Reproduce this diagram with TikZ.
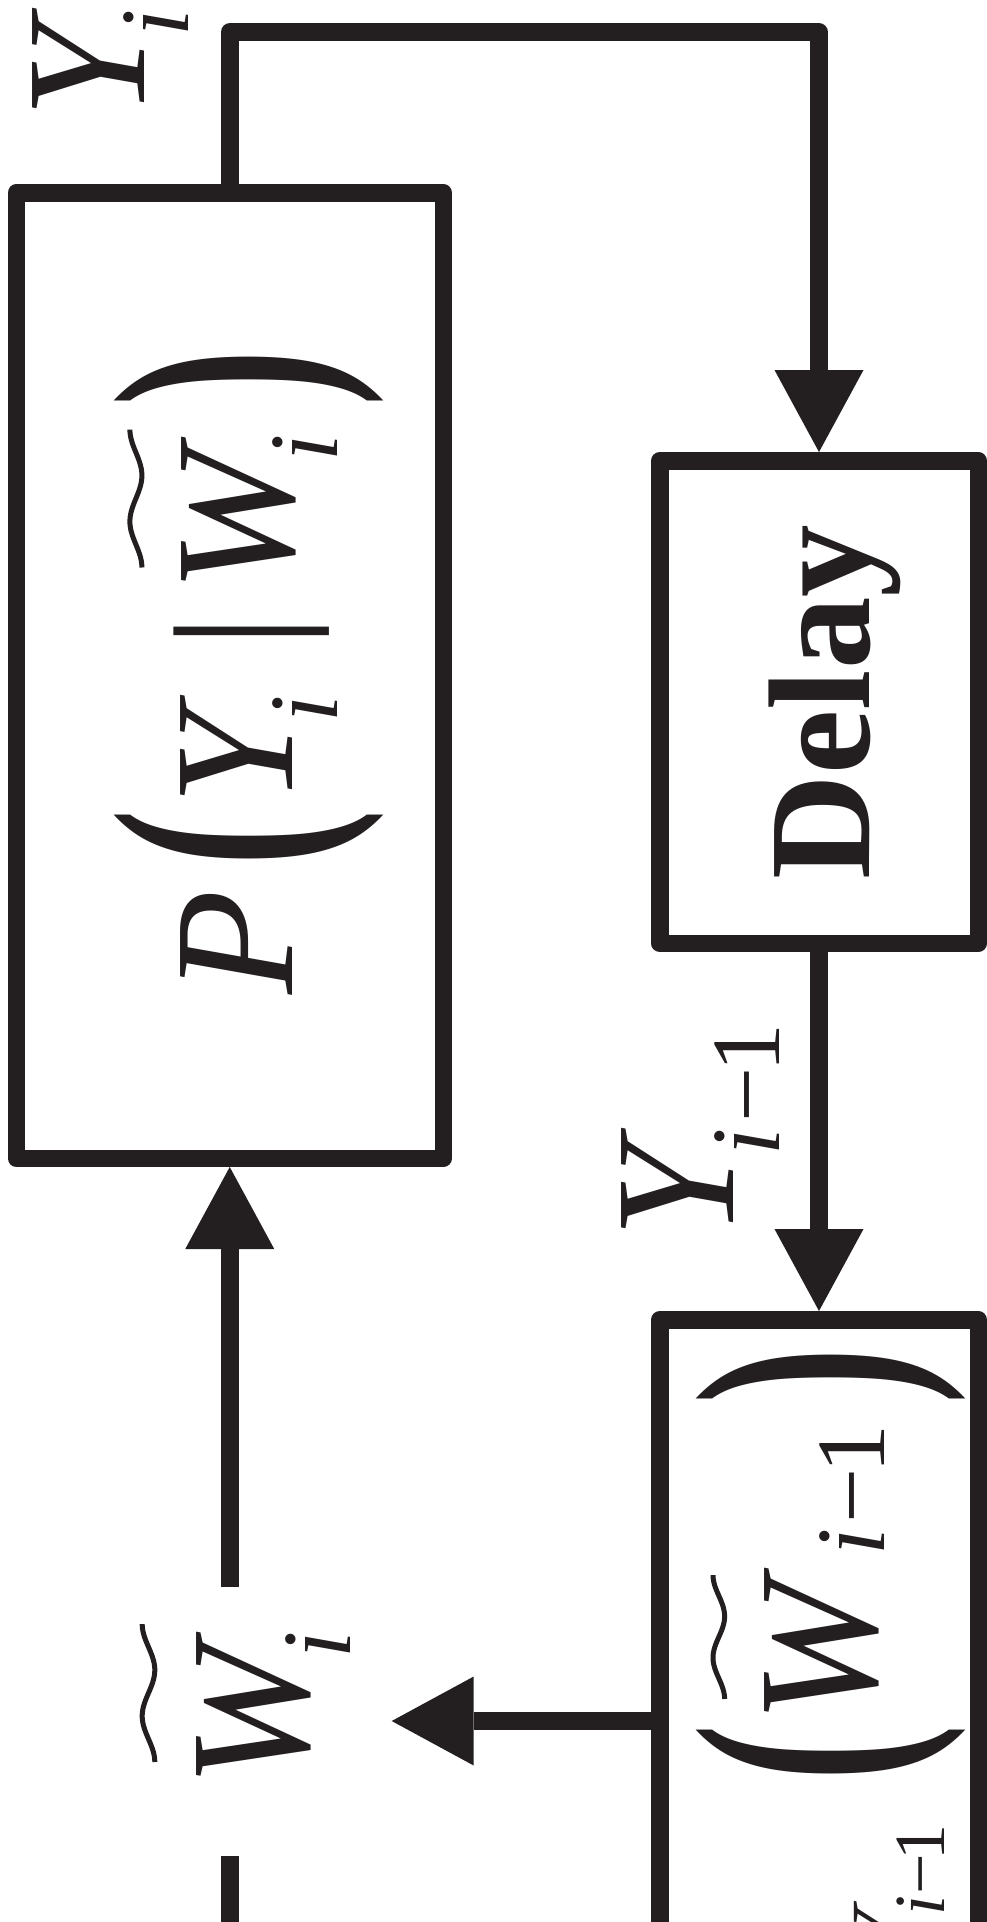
\documentclass[tikz,border=0pt]{standalone}
\usepackage{graphicx}
\usepackage{fontspec}
\setmainfont{Liberation Serif}
\usetikzlibrary{arrows.meta}
\definecolor{ink}{RGB}{35,31,32}
\newcommand\FMi{\fontsize{171}{171}\selectfont\itshape}
\newcommand\FMu{\fontsize{171}{171}\selectfont\upshape}
\newcommand\FSi{\fontsize{98}{98}\selectfont\itshape}
\newcommand\FSu{\fontsize{98}{98}\selectfont\upshape}
\newcommand\FTi{\fontsize{72}{72}\selectfont\itshape}
\newcommand\FTu{\fontsize{72}{72}\selectfont\upshape}
\newcommand\ParenL{\FMu\bfseries\scalebox{1.0}[1.74]{(}}
\newcommand\ParenR{\FMu\bfseries\scalebox{1.0}[1.74]{)}}
\newcommand\WaveTilde[4]{\draw[tildeline] plot[domain=0:1,samples=60,variable=\t] ({#1+#4*cos(540*\t)},{#2+#3/2-#3*\t});}
\begin{document}
\begin{tikzpicture}[x=1pt,y=-1pt,line join=round,
  box/.style={draw=ink,line width=17.5pt,inner sep=0pt,outer sep=8.75pt},
  conn/.style={draw=ink,line width=17.5pt},
  tip/.style={-{Triangle[length=82pt,width=89pt,line width=0pt]}},
  gl/.style={rotate=90,anchor=base,inner sep=0pt,outer sep=0pt,text=ink},
  par/.style={rotate=90,anchor=center,inner sep=0pt,outer sep=0pt,text=ink},
  tildeline/.style={draw=ink,line width=5pt,line cap=butt}]
\useasboundingbox (0,0) rectangle (987,1922);
% boxes
\node[box,minimum width=427pt,minimum height=965.5pt] (pbox) at (229.75,675.5) {};
\node[box,minimum width=318.5pt,minimum height=482.5pt] (delay) at (819,702) {};
\node[box,minimum width=318.5pt,minimum height=800pt] (bbox) at (819,1719.75) {};
% coordinates
\coordinate (top) at (0,32);
\coordinate (wtip) at (391.7,1721);
\coordinate (wgaptop) at (229.75,1587);
\coordinate (wgapbot) at (229.75,1856);
\coordinate (lowend) at (229.75,1980);
% connectors
\draw[conn,tip] (pbox.north) -- (pbox.north |- top) -| (delay.north);
\draw[conn,tip] (delay.south) -- (bbox.north);
\draw[conn,tip] (bbox.west |- wtip) -- (wtip);
\draw[conn,tip] (wgaptop) -- (pbox.south);
\draw[conn] (lowend) -- (wgapbot);
% label Y_i
\node[gl] (yiY) at (144,70.5) {\FMi Y};
\node[gl] (yii) at (188,22.5) {\FSi i};
% P box text
\node[gl] (pP) at (292,942.5) {\FMi P};
\node[par] (pL) at (249.4,838) {\ParenL};
\node[gl] (pY) at (292,758.4) {\FMi Y};
\node[gl] (pYi) at (337,709) {\FSi i};
\node[gl] (pbar) at (292,631) {\FMu |};
\node[gl] (pW) at (293,521) {\FMi W};
\WaveTilde{135.9}{498.5}{138}{6}
\node[gl] (pWi) at (337,447.5) {\FSi i};
\node[par] (pR) at (249.4,378.4) {\ParenR};
% Delay
\node[gl] (dtext) at (869,702) {\fontsize{145}{145}\selectfont\bfseries Delay};
% label Y_{i-1}
\node[gl] (yY) at (733,1190.5) {\FMi Y};
\node[gl] (yi) at (779,1142) {\FSi i};
\node[gl] (ym) at (779,1094.5) {\FSu \symbol{"2212}};
\node[gl] (y1) at (779,1047.5) {\FSu 1};
% label W_i
\node[gl] (wW) at (308,1716) {\FMi W};
\WaveTilde{148.5}{1693}{138}{6.3}
\node[gl] (wi) at (350,1644.5) {\FSi i};
% bottom box text
\node[par] (bR) at (830.8,1376) {\ParenR};
\node[gl] (b1) at (884,1448.5) {\FSu 1};
\node[gl] (bm) at (884,1495.5) {\FSu \symbol{"2212}};
\node[gl] (bi) at (884,1541.5) {\FSi i};
\WaveTilde{718.8}{1637}{124}{5.8}
\node[gl] (bW) at (876,1652) {\FMi W};
\node[par] (bL) at (830.8,1753) {\ParenL};
\node[gl] (b21) at (944,1842.5) {\FTu 1};
\node[gl] (b2m) at (944,1874.5) {\FTu \symbol{"2212}};
\node[gl] (b2i) at (944,1905.6) {\FTi i};
\node[gl] (b2Y) at (918,1937) {\FSi Y};
\end{tikzpicture}
\end{document}
